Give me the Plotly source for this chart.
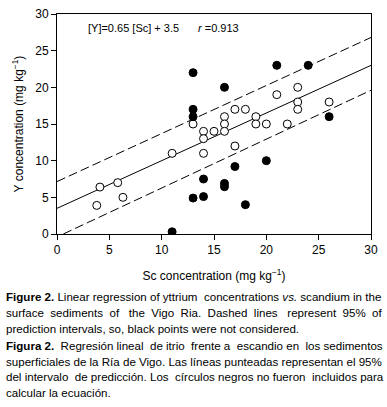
import plotly.graph_objects as go

# Open circles: points used in the regression
open_sc = [3.8, 4.1, 5.8, 6.3, 11, 13, 14, 14, 14, 15, 16, 16, 16, 17, 17, 18, 19, 19, 20, 21, 22, 23, 23, 23, 26]
open_y = [3.9, 6.4, 7.0, 5.0, 11, 15, 14, 13, 11, 14, 16, 15, 14, 17, 12, 17, 16, 15, 15, 19, 15, 20, 18, 17, 18]

# Filled circles: points excluded
black_sc = [11, 13, 13, 13, 13, 14, 14, 16, 16, 16, 17, 18, 20, 21, 24, 26]
black_y = [0.3, 22, 17, 16, 4.9, 5.1, 7.5, 20, 6.9, 6.45, 9.2, 4.0, 10, 23, 23, 16]

# Regression line and 95% prediction interval endpoints
fit_x = [0, 30]
fit_y = [3.5, 23.0]
upper_x = [0, 30]
upper_y = [7.15, 26.8]
lower_x = [0.6, 30]
lower_y = [0, 19.6]

ticks = [0, 5, 10, 15, 20, 25, 30]

equation_text = "[Y]=0.65 [Sc] + 3.5"
r_text = "<i>r</i> =0.913"
x_title = "Sc concentration (mg kg<sup>−1</sup>)"
y_title = "Y concentration (mg kg<sup>−1</sup>)"

# Caption lines: (bold prefix, rest, justified?)
caption_lines = [
    ("Figure 2.", "Linear regression of yttrium concentrations vs. scandium in the", True),
    ("", "surface sediments of the Vigo Ria. Dashed lines represent 95% of", True),
    ("", "prediction intervals, so, black points were not considered.", False),
    ("Figura 2.", "Regresión lineal de itrio frente a escandio en los sedimentos", True),
    ("", "superficiales de la Ría de Vigo. Las líneas punteadas representan el 95%", True),
    ("", "del intervalo de predicción. Los círculos negros no fueron incluidos para", True),
    ("", "calcular la ecuación.", False),
]
caption_y_px = [297, 313, 329, 346, 362, 377, 393]

FONT = "Liberation Sans, Arial, sans-serif"

# ---- layout geometry (pixels) ----
W, H = 387, 407
plot_l, plot_r, plot_t, plot_b = 57, 371, 14, 234
cap_l, cap_r = 5, 382

# Arial / Liberation Sans advance widths (1/1000 em)
REG = {' ': 278, 'a': 556, 'b': 556, 'c': 500, 'd': 556, 'e': 556, 'f': 278, 'g': 556, 'h': 556,
       'i': 222, 'j': 222, 'k': 500, 'l': 222, 'm': 833, 'n': 556, 'o': 556, 'p': 556, 'q': 556,
       'r': 333, 's': 500, 't': 278, 'u': 556, 'v': 500, 'w': 722, 'x': 500, 'y': 500, 'z': 500,
       'A': 667, 'B': 667, 'C': 722, 'D': 722, 'E': 667, 'F': 611, 'G': 778, 'H': 722, 'I': 278,
       'J': 500, 'K': 667, 'L': 556, 'M': 833, 'N': 722, 'O': 778, 'P': 667, 'Q': 778, 'R': 722,
       'S': 667, 'T': 611, 'U': 722, 'V': 667, 'W': 944, 'X': 667, 'Y': 667, 'Z': 611,
       '.': 278, ',': 278, '%': 889, '(': 333, ')': 333,
       'á': 556, 'é': 556, 'í': 278, 'ó': 556, 'ú': 556, 'ñ': 556}
for d in "0123456789":
    REG[d] = 556
BOLD = {'F': 611, 'i': 278, 'g': 611, 'u': 611, 'r': 389, 'e': 556, 'a': 556, ' ': 278,
        '2': 556, '.': 278}


def em_width(s, table):
    return sum(table.get(ch, 556) for ch in s) / 1000.0


def line_words(bold, rest):
    words = []
    if bold:
        words.append((bold, True))
    for w in rest.split(" "):
        words.append((w, False))
    return words


def natural_em(words):
    total = 0.0
    for w, b in words:
        total += em_width(w, BOLD if b else REG)
    total += 0.278 * (len(words) - 1)
    return total


avail = cap_r - cap_l
cap_size = min(12.5, min(avail / natural_em(line_words(b, r)) for b, r, j in caption_lines if j) - 0.02)
NBSP = "\u00a0"


def build_line(bold, rest, justify):
    words = line_words(bold, rest)
    gaps = len(words) - 1
    n_extra = 0
    if justify and gaps > 0:
        extra_px = avail - natural_em(words) * cap_size
        n_extra = max(0, int(round(extra_px / (0.278 * cap_size))))
    parts = []
    for i, (w, b) in enumerate(words):
        if w == "vs.":
            w = "<i>vs.</i>"
        parts.append("<b>%s</b>" % w if b else w)
        if i < gaps:
            # spread extra spaces evenly along the line (centred distribution)
            k = int((i + 1) * n_extra / gaps + 0.5) - int(i * n_extra / gaps + 0.5)
            parts.append(" " + NBSP * k)
    return "".join(parts)


fig = go.Figure()
dash = "9px,4px"
fig.add_trace(go.Scatter(x=upper_x, y=upper_y, mode="lines",
                         line=dict(color="black", width=1, dash=dash), showlegend=False))
fig.add_trace(go.Scatter(x=lower_x, y=lower_y, mode="lines",
                         line=dict(color="black", width=1, dash=dash), showlegend=False))
fig.add_trace(go.Scatter(x=fit_x, y=fit_y, mode="lines",
                         line=dict(color="black", width=1), showlegend=False))
fig.add_trace(go.Scatter(x=open_sc, y=open_y, mode="markers",
                         marker=dict(symbol="circle", size=8, color="white",
                                     line=dict(color="black", width=1)), showlegend=False))
fig.add_trace(go.Scatter(x=black_sc, y=black_y, mode="markers",
                         marker=dict(symbol="circle", size=8, color="black",
                                     line=dict(color="black", width=1)), showlegend=False))

axis_common = dict(range=[0, 30], tickvals=ticks, ticks="outside", ticklen=5,
                   tickwidth=1, tickcolor="black", showline=True, linecolor="black",
                   linewidth=1, mirror=True, showgrid=False, zeroline=False,
                   automargin=False,
                   tickfont=dict(family=FONT, size=12, color="black"))

fig.update_layout(
    template="none",
    width=W, height=H,
    margin=dict(l=plot_l, r=W - plot_r, t=plot_t, b=H - plot_b, pad=0),
    paper_bgcolor="white", plot_bgcolor="white",
    font=dict(family=FONT, color="black"),
    showlegend=False,
    xaxis=dict(**axis_common,
               title=dict(text=x_title, font=dict(family=FONT, size=12, color="black"))),
    yaxis=dict(**axis_common,
               title=dict(text=y_title, font=dict(family=FONT, size=12, color="black"))),
)

fig.add_annotation(x=(87 - plot_l) / (plot_r - plot_l) * 30, y=28.1, xref="x", yref="y",
                   xanchor="left", yanchor="middle", text=equation_text, showarrow=False,
                   borderpad=0, font=dict(family=FONT, size=11, color="black"))
fig.add_annotation(x=(197 - plot_l) / (plot_r - plot_l) * 30, y=28.1, xref="x", yref="y",
                   xanchor="left", yanchor="middle", text=r_text, showarrow=False,
                   borderpad=0, font=dict(family=FONT, size=11, color="black"))

for (bold, rest, just), ypx in zip(caption_lines, caption_y_px):
    fig.add_annotation(x=(cap_l - plot_l) / (plot_r - plot_l),
                       y=(plot_b - ypx) / (plot_b - plot_t),
                       xref="paper", yref="paper", xanchor="left", yanchor="middle",
                       text=build_line(bold, rest, just), showarrow=False,
                       borderpad=0, font=dict(family=FONT, size=cap_size, color="black"))

fig.write_html("out.html", config={"displayModeBar": False},
               post_script="document.body.style.margin='0';document.body.style.padding='0';")
